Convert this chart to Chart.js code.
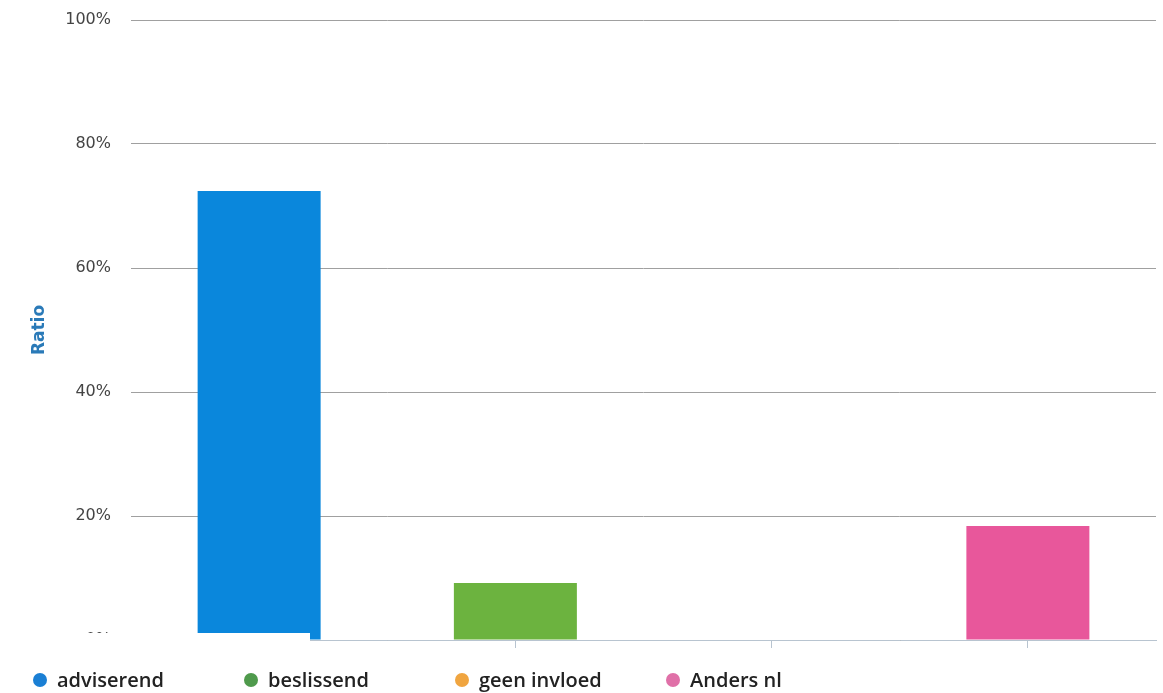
<!DOCTYPE html>
<html>
<head>
<meta charset="utf-8">
<script src="https://cdn.jsdelivr.net/npm/chart.js@4/dist/chart.umd.min.js"></script>
<style>
  html, body { margin:0; padding:0; background:#fff; }
  .wrap { position:relative; width:1163px; height:693px; }
  canvas { display:block; }
  .mask { position:absolute; left:0; top:633px; width:310px; height:32px; background:#fff; }
  .legend { position:absolute; left:33px; top:666px; display:flex; font:600 20px "Open Sans", sans-serif; color:#222; }
  .legend span.item { width:211px; display:flex; align-items:center; white-space:nowrap; }
  .legend i { display:inline-block; width:14px; height:14px; border-radius:50%; margin-right:10px; }
</style>
</head>
<body>
<div class="wrap">
  <canvas id="c" width="1163" height="693"></canvas>
  <div class="mask"></div>
  <div class="legend" id="legend"></div>
</div>
<script>
const categories = ["adviserend", "beslissend", "geen invloed", "Anders nl"];
const values = [72.4, 9.2, 0, 18.4];
const barColors = ["#0a87dc", "#6cb33f", "#f2a540", "#e8579b"];
const legendColors = ["#1a7fd4", "#4f9a4c", "#f0a540", "#e070a8"];
const yTicks = [0, 20, 40, 60, 80, 100];

const legend = document.getElementById("legend");
categories.forEach((name, i) => {
  const it = document.createElement("span");
  it.className = "item";
  it.innerHTML = `<i style="background:${legendColors[i]}"></i>${name}`;
  legend.appendChild(it);
});

new Chart(document.getElementById("c"), {
  type: "bar",
  data: {
    labels: categories,
    datasets: [{ data: values, backgroundColor: barColors, categoryPercentage: 1, barPercentage: 0.48 }]
  },
  options: {
    responsive: false,
    animation: false,
    layout: { padding: { top: 20, right: 7, bottom: 0, left: 0 } },
    plugins: { legend: { display: false }, tooltip: { enabled: false } },
    scales: {
      x: {
        ticks: { display: false },
        grid: { drawOnChartArea: false, drawTicks: true, tickLength: 8, offset: false, color: "#b8c4d0" },
        border: { color: "#b8c4d0" },
        afterFit: s => { s.height = 53; }
      },
      y: {
        min: 0, max: 100,
        afterBuildTicks: s => { s.ticks = yTicks.map(v => ({ value: v })); },
        ticks: { callback: v => v + "%", color: "#444", padding: 20, font: { family: "DejaVu Sans", size: 16 } },
        grid: { drawTicks: false, color: "#a0a0a0" },
        border: { display: false },
        title: { display: true, text: "Ratio", color: "#2a7ab8", padding: { top: 29, bottom: 0 }, font: { family: "DejaVu Sans", size: 17, weight: "bold" } },
        afterFit: s => { s.width = 131; s.paddingTop = 0; s.paddingBottom = 0; }
      }
    }
  }
});
</script>
</body>
</html>
